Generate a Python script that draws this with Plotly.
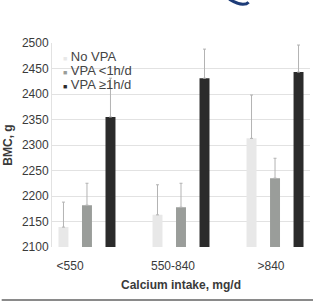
import plotly.graph_objects as go

categories = ["<550", "550-840", ">840"]
series_names = ["No VPA", "VPA <1h/d", "VPA \u22651h/d"]
no_vpa = [2139, 2163, 2313]
vpa_lt1 = [2182, 2178, 2235]
vpa_ge1 = [2355, 2431, 2443]
err_no_vpa = [49, 59, 85]
err_vpa_lt1 = [43, 47, 39]
err_vpa_ge1 = [76, 57, 53]
y_ticks = [2100, 2150, 2200, 2250, 2300, 2350, 2400, 2450, 2500]

colors = ["#e8e8e8", "#9a9d9a", "#2b2b2b"]
values = [no_vpa, vpa_lt1, vpa_ge1]
errors = [err_no_vpa, err_vpa_lt1, err_vpa_ge1]
centers = [-0.25, 0.0, 0.25]
bw = 0.106

xpos = list(range(len(categories)))

fig = go.Figure()
for name, vals, errs, col, c in zip(series_names, values, errors, colors, centers):
    fig.add_trace(go.Bar(
        x=xpos, y=vals, name=name, width=bw, offset=c - bw / 2,
        marker=dict(color=col, line=dict(width=0)),
        error_y=dict(type="data", array=errs, arrayminus=[0] * len(errs),
                     symmetric=False, color="#b3b3b3", thickness=1, width=1.5),
        showlegend=False,
    ))

font_family = "Liberation Sans, Arial, sans-serif"
txt = "#3a3a3a"

fig.update_layout(
    width=313, height=302,
    margin=dict(l=52, r=3, t=43, b=55),
    paper_bgcolor="white", plot_bgcolor="white",
    barmode="overlay",
    font=dict(family=font_family, size=12, color=txt),
    xaxis=dict(
        range=[-0.372, 2.372],
        tickvals=[-0.18, 0.915, 1.957],
        ticktext=categories,
        showgrid=False, zeroline=False, showline=False,
        ticks="outside", ticklen=8, tickcolor="rgba(0,0,0,0)",
        tickfont=dict(size=12, color=txt),
        title=dict(text="<b>Calcium intake, mg/d</b>", font=dict(size=12, color=txt), standoff=8),
    ),
    yaxis=dict(
        range=[2100, 2500],
        tickvals=y_ticks,
        showgrid=True, gridcolor="#e2e2e2", gridwidth=1,
        zeroline=False, showline=True, linecolor="#e2e2e2", linewidth=1,
        ticks="", ticklen=0,
        tickfont=dict(size=12, color=txt),
        title=dict(text="<b>BMC, g</b>", font=dict(size=12, color=txt), standoff=6),
    ),
)

# Legend as text annotations (small squares + labels)
leg_y = [0.934, 0.866, 0.797]
for name, col, yy in zip(series_names, colors, leg_y):
    fig.add_annotation(
        xref="paper", yref="paper", x=0.035, y=yy, xanchor="left", yanchor="middle",
        text=f"<span style='color:{col}; font-size:7px'>\u25a0</span> {name}",
        showarrow=False, font=dict(size=13, color="#444444"),
    )

# bottom rule
fig.add_shape(type="line", xref="paper", yref="paper",
              x0=-0.195, x1=1.02, y0=-0.26, y1=-0.26,
              line=dict(color="#8a8a8a", width=2))
# partial logo at top
fig.add_shape(type="path", xref="paper", yref="paper",
              path="M 0.687,1.215 Q 0.72,1.19 0.74,1.19 Q 0.755,1.19 0.762,1.2",
              line=dict(color="#1d3c78", width=3))

fig.write_html("out.html")
